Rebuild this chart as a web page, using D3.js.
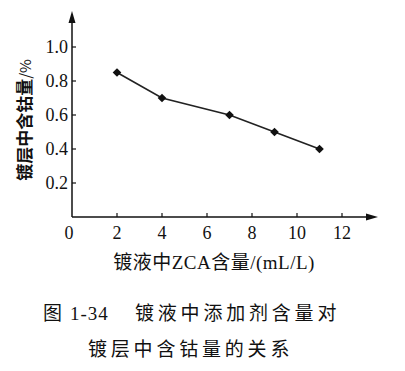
<!DOCTYPE html>
<html>
<head>
<meta charset="utf-8">
<script src="https://cdn.jsdelivr.net/npm/d3@7"></script>
<style>
  body { margin: 0; background: #fff; }
  text { fill: #111; }
</style>
</head>
<body>
<div id="chart"></div>
<script>
// data
const zcaContent = [2, 4, 7, 9, 11];
const cobaltContent = [0.85, 0.70, 0.60, 0.50, 0.40];
const xTicks = [0, 2, 4, 6, 8, 10, 12];
const yTicks = [0.2, 0.4, 0.6, 0.8, 1.0];

const width = 405;
const height = 371;

const svg = d3.select("#chart")
    .append("svg")
    .attr("width", width)
    .attr("height", height);

// scales
const x = d3.scaleLinear().domain([0, 12]).range([72, 342]);
const y = d3.scaleLinear().domain([0, 1]).range([217, 47]);

const ink = "#111";
const serif = "'Liberation Serif', 'DejaVu Serif', serif";
const cjk = "'Liberation Serif', 'Noto Sans CJK SC', serif";

// axis lines with arrows
svg.append("line")
    .attr("x1", 72).attr("y1", 217)
    .attr("x2", 372).attr("y2", 217)
    .attr("stroke", ink).attr("stroke-width", 1.5);
svg.append("path")
    .attr("d", "M378,217 L366,213.5 L366,220.5 Z")
    .attr("fill", ink);

svg.append("line")
    .attr("x1", 72).attr("y1", 217)
    .attr("x2", 72).attr("y2", 18)
    .attr("stroke", ink).attr("stroke-width", 1.5);
svg.append("path")
    .attr("d", "M72,11 L68.5,23 L75.5,23 Z")
    .attr("fill", ink);

// x ticks (pointing up) and labels
svg.selectAll(".xtick")
    .data(xTicks.filter(d => d > 0))
    .join("line")
    .attr("class", "xtick")
    .attr("x1", d => x(d)).attr("x2", d => x(d))
    .attr("y1", 217).attr("y2", 213)
    .attr("stroke", ink).attr("stroke-width", 1.2);

svg.selectAll(".xlab")
    .data(xTicks)
    .join("text")
    .attr("class", "xlab")
    .attr("x", d => x(d) - (d === 0 ? 3 : 0))
    .attr("y", 239)
    .attr("text-anchor", "middle")
    .style("font-family", serif)
    .style("font-size", "18px")
    .text(d => d);

// y ticks (pointing right) and labels
svg.selectAll(".ytick")
    .data(yTicks)
    .join("line")
    .attr("class", "ytick")
    .attr("x1", 72).attr("x2", 76)
    .attr("y1", d => y(d)).attr("y2", d => y(d))
    .attr("stroke", ink).attr("stroke-width", 1.2);

svg.selectAll(".ylab")
    .data(yTicks)
    .join("text")
    .attr("class", "ylab")
    .attr("x", 68)
    .attr("y", d => y(d) + 6)
    .attr("text-anchor", "end")
    .style("font-family", serif)
    .style("font-size", "18px")
    .text(d => d.toFixed(1));

// line + diamond markers
const points = zcaContent.map((d, i) => ({ x: d, y: cobaltContent[i] }));

svg.append("path")
    .datum(points)
    .attr("fill", "none")
    .attr("stroke", "#222")
    .attr("stroke-width", 1.6)
    .attr("d", d3.line().x(d => x(d.x)).y(d => y(d.y)));

svg.selectAll(".pt")
    .data(points)
    .join("path")
    .attr("class", "pt")
    .attr("transform", d => `translate(${x(d.x)},${y(d.y)})`)
    .attr("d", d3.symbol(d3.symbolDiamond2, 48))
    .attr("fill", ink);

// axis titles
const yTitle = svg.append("text")
    .attr("transform", "translate(31,120) rotate(-90)")
    .attr("text-anchor", "middle")
    .style("font-family", "'Noto Sans CJK SC', sans-serif")
    .style("font-weight", "bold")
    .style("font-size", "17px");
yTitle.append("tspan").text("镀层中含钴量");
yTitle.append("tspan")
    .style("font-weight", "normal")
    .style("font-size", "15px")
    .text("/%");

svg.append("text")
    .attr("x", 214)
    .attr("y", 269)
    .attr("text-anchor", "middle")
    .style("font-family", cjk)
    .style("font-size", "19px")
    .style("letter-spacing", "0.5px")
    .text("镀液中ZCA含量/(mL/L)");

// caption
const cap1 = svg.append("text")
    .attr("y", 320)
    .style("font-family", cjk)
    .style("font-size", "19px");
cap1.append("tspan").attr("x", 43).text("图");
cap1.append("tspan").attr("x", 70).style("letter-spacing", "1px").text("1-34");
cap1.append("tspan").attr("x", 135).style("letter-spacing", "3.8px").text("镀液中添加剂含量对");

svg.append("text")
    .attr("x", 88)
    .attr("y", 356)
    .style("font-family", cjk)
    .style("font-size", "19px")
    .style("letter-spacing", "3.8px")
    .text("镀层中含钴量的关系");
</script>
</body>
</html>
